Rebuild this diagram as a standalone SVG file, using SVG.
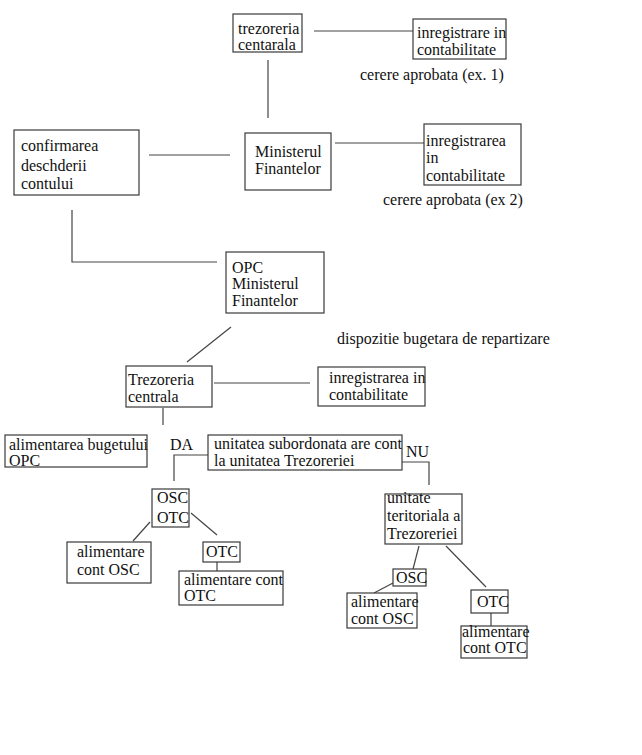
<svg xmlns="http://www.w3.org/2000/svg" width="642" height="755" viewBox="0 0 642 755">
<style>
.b{fill:#fff;stroke:#3a3a3a;stroke-width:1.2}
.c line,.c polyline{stroke:#444;stroke-width:1.2;fill:none}
text{font-family:"Liberation Serif","Times New Roman",serif;font-size:16px;fill:#111}
</style>
<rect width="642" height="755" fill="#fff"/>
<g class="c" id="connectors">
<line x1="268" y1="60" x2="268" y2="118"/>
<line x1="314" y1="31" x2="413" y2="31"/>
<line x1="149" y1="155" x2="230" y2="155"/>
<line x1="335" y1="143" x2="424" y2="143"/>
<polyline points="72,210 72,262 217,262"/>
<line x1="231" y1="327" x2="187" y2="362"/>
<line x1="214" y1="383" x2="310" y2="383"/>
<line x1="163" y1="408" x2="163" y2="425"/>
<polyline points="208,455 174,455 174,481"/>
<polyline points="402,462 429,462 429,485"/>
<line x1="150" y1="522" x2="133" y2="541"/>
<line x1="191" y1="513" x2="217" y2="535"/>
<line x1="217" y1="562" x2="217" y2="571"/>
<line x1="419" y1="546" x2="413" y2="569"/>
<line x1="393" y1="583" x2="374" y2="593"/>
<line x1="446" y1="546" x2="486" y2="587"/>
<line x1="491" y1="613" x2="491" y2="626"/>
</g>
<g id="trezoreria-centarala"><rect class="b" x="233" y="14" width="69" height="38"/><text x="238" y="34">trezoreria</text><text x="238" y="50">centarala</text></g>
<g id="inregistrare-1"><rect class="b" x="413" y="19" width="93" height="40"/><text x="417" y="38">inregistrare in</text><text x="417" y="55">contabilitate</text></g>
<g id="label-ex1"><text x="360" y="80">cerere aprobata (ex. 1)</text></g>
<g id="confirmarea"><rect class="b" x="14" y="130" width="125" height="65"/><text x="21" y="151">confirmarea</text><text x="21" y="171">deschderii</text><text x="21" y="189">contului</text></g>
<g id="ministerul"><rect class="b" x="245" y="133" width="86" height="57"/><text x="255" y="157">Ministerul</text><text x="255" y="174">Finantelor</text></g>
<g id="inregistrarea-2"><rect class="b" x="424" y="124" width="97" height="61"/><text x="426" y="146">inregistrarea</text><text x="426" y="163">in</text><text x="426" y="181">contabilitate</text></g>
<g id="label-ex2"><text x="383" y="205">cerere aprobata (ex 2)</text></g>
<g id="opc"><rect class="b" x="226" y="252" width="98" height="61"/><text x="232" y="273">OPC</text><text x="232" y="289">Ministerul</text><text x="232" y="306">Finantelor</text></g>
<g id="label-dispozitie"><text x="337" y="344">dispozitie bugetara de repartizare</text></g>
<g id="trezoreria-centrala"><rect class="b" x="126" y="366" width="86" height="41"/><text x="128" y="385">Trezoreria</text><text x="128" y="402">centrala</text></g>
<g id="inregistrarea-3"><rect class="b" x="318" y="367" width="107" height="39"/><text x="329" y="383">inregistrarea in</text><text x="329" y="400">contabilitate</text></g>
<g id="alimentarea-bugetului"><rect class="b" x="5" y="435" width="142" height="32"/><text x="9" y="450">alimentarea bugetului</text><text x="9" y="466">OPC</text></g>
<g id="label-da"><text x="170" y="450">DA</text></g>
<g id="unitatea"><rect class="b" x="208" y="435" width="194" height="35"/><text x="214" y="449">unitatea subordonata are cont</text><text x="214" y="466">la unitatea Trezoreriei</text></g>
<g id="label-nu"><text x="406" y="457">NU</text></g>
<g id="osc-otc"><rect class="b" x="152" y="489" width="37" height="38"/><text x="157" y="503">OSC</text><text x="157" y="523">OTC</text></g>
<g id="alim-osc-1"><rect class="b" x="67" y="542" width="84" height="41"/><text x="77" y="557">alimentare</text><text x="77" y="575">cont OSC</text></g>
<g id="otc-1"><rect class="b" x="203" y="542" width="37" height="20"/><text x="206" y="557">OTC</text></g>
<g id="alim-otc-1"><rect class="b" x="179" y="571" width="104" height="34"/><text x="184" y="585">alimentare cont</text><text x="184" y="601">OTC</text></g>
<g id="unitate-teritoriala"><rect class="b" x="385" y="494" width="77" height="50"/><text x="387" y="503">unitate</text><text x="387" y="521">teritoriala a</text><text x="387" y="539">Trezoreriei</text></g>
<g id="osc-2"><rect class="b" x="393" y="569" width="33" height="17"/><text x="396" y="583">OSC</text></g>
<g id="alim-osc-2"><rect class="b" x="347" y="593" width="70" height="35"/><text x="351" y="607">alimentare</text><text x="351" y="624">cont OSC</text></g>
<g id="otc-2"><rect class="b" x="471" y="590" width="37" height="23"/><text x="477" y="607">OTC</text></g>
<g id="alim-otc-2"><rect class="b" x="461" y="626" width="66" height="32"/><text x="462" y="637">alimentare</text><text x="463" y="653">cont OTC</text></g>
</svg>
